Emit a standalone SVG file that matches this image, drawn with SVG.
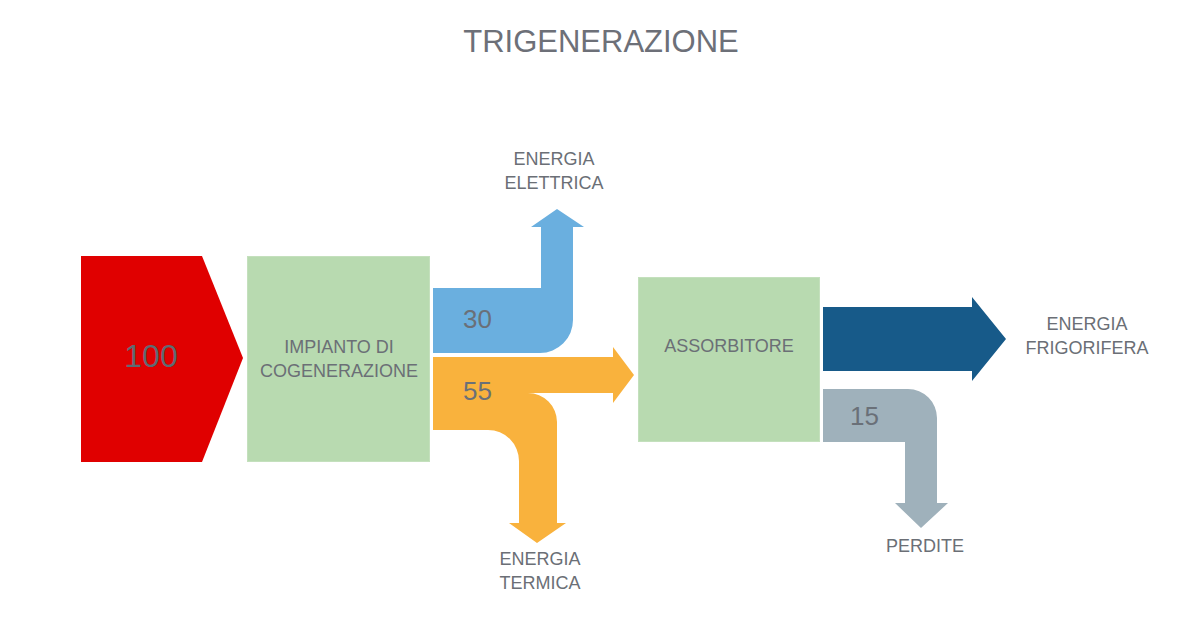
<svg xmlns="http://www.w3.org/2000/svg" width="1200" height="625" viewBox="0 0 1200 625">
<style>
text{font-family:"Liberation Sans",Arial,sans-serif;fill:#6b6f76;}
.lbl{font-size:18px;text-anchor:middle;}
.num{font-size:26px;fill:#6a7078;}
.box{fill:#b8dab0;stroke:#c4e0bd;stroke-width:1;}
</style>
<rect width="1200" height="625" fill="#ffffff"/>
<text x="601" y="52" style="font-size:31px;text-anchor:middle;fill:#6d7078">TRIGENERAZIONE</text>
<g id="connectors">
<path id="flow-elettrica" fill="#6aafdf" d="M433,288 H541 V227 H531 L557,209 L584,227 H573 V320 A33,33 0 0 1 540,353 H433 Z"/>
<path id="flow-termica" fill="#f9b23d" d="M433,357 H613 V347 L634,375 L613,403 V393 H528 A29,29 0 0 1 557,422 V523 H566 L537,543 L509,523 H519 V461 A31,31 0 0 0 488,430 H433 Z"/>
<path id="flow-frigorifera" fill="#175a89" d="M823,307 H972 V297 L1006,339 L972,381 V371 H823 Z"/>
<path id="flow-perdite" fill="#9fb1bb" d="M823,389 H908 A29,29 0 0 1 937,418 V503 H948 L921,528 L895,503 H905 V442 H823 Z"/>
</g>
<g id="input">
<path fill="#e00000" d="M81,256 H202 L243,358 L202,462 H81 Z"/>
<text x="151" y="367" style="font-size:32px;text-anchor:middle;fill:#5f6a72">100</text>
</g>
<g id="cogenerazione">
<rect class="box" x="247.5" y="256.5" width="182" height="205"/>
<text class="lbl" x="339" y="353">IMPIANTO DI</text>
<text class="lbl" x="339" y="377">COGENERAZIONE</text>
</g>
<g id="assorbitore">
<rect class="box" x="638.5" y="277.5" width="181" height="164"/>
<text class="lbl" x="729" y="352">ASSORBITORE</text>
</g>
<g id="label-elettrica">
<text class="lbl" x="554" y="165">ENERGIA</text>
<text class="lbl" x="554" y="189">ELETTRICA</text>
</g>
<g id="label-termica">
<text class="lbl" x="540" y="565">ENERGIA</text>
<text class="lbl" x="540" y="589">TERMICA</text>
</g>
<g id="label-frigorifera">
<text class="lbl" x="1087" y="330">ENERGIA</text>
<text class="lbl" x="1087" y="354">FRIGORIFERA</text>
</g>
<g id="label-perdite">
<text class="lbl" x="925" y="552">PERDITE</text>
</g>
<g id="values">
<text class="num" x="463" y="328">30</text>
<text class="num" x="463" y="400">55</text>
<text class="num" x="850" y="425">15</text>
</g>
</svg>
